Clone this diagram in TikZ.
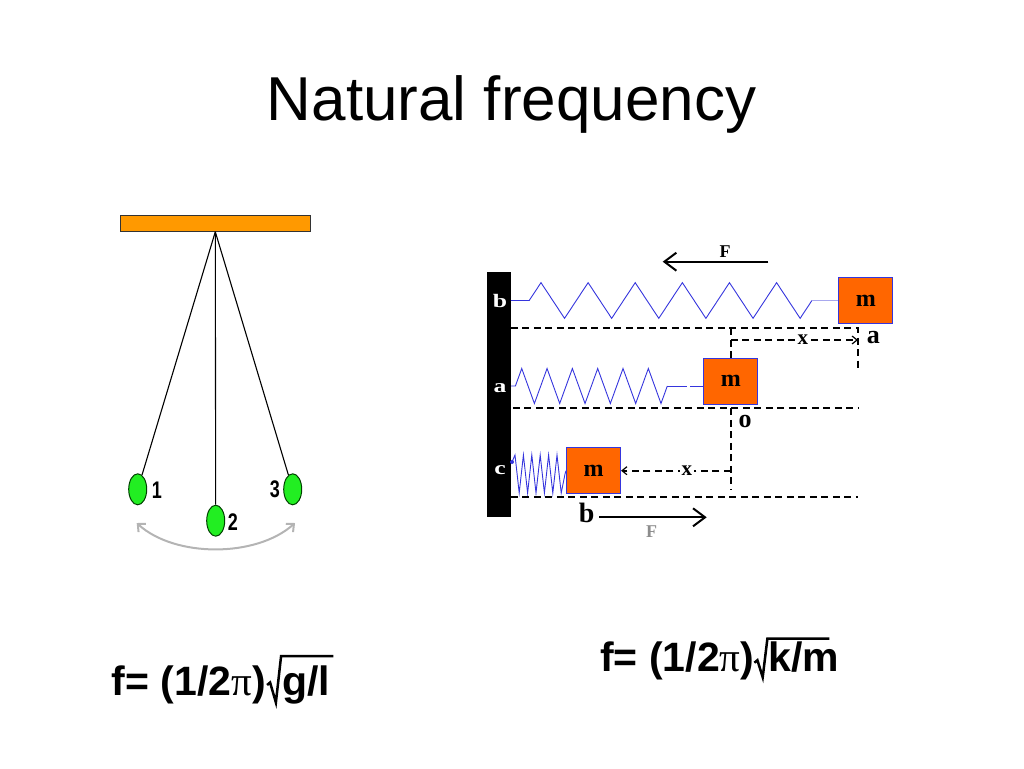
\documentclass[tikz,border=0pt]{standalone}
\usepackage{fontspec}
\setmainfont{Liberation Serif}
\newfontfamily\sans{Liberation Sans}
\usetikzlibrary{arrows.meta,shapes.geometric}
\definecolor{barorange}{HTML}{FF9900}
\definecolor{boxorange}{HTML}{FF6600}
\definecolor{springblue}{HTML}{3535DD}
\definecolor{lightblue}{HTML}{A8A8EE}
\definecolor{bobgreen}{HTML}{22EE22}
\definecolor{arcgray}{HTML}{B4B4B4}
\begin{document}
\begin{tikzpicture}[x=1pt,y=-1pt,
  mass/.style={draw=springblue, line width=1pt, fill=boxorange, minimum width=54pt, minimum height=46pt, inner sep=0pt, font=\bfseries\fontsize{24}{24}\selectfont},
  bob/.style={ellipse, draw=black!75!green, line width=1pt, fill=bobgreen, minimum width=18pt, minimum height=31pt, inner sep=0pt},
  rope/.style={line width=1.1pt},
  spring/.style={springblue, line width=0.9pt, line join=miter},
  guide/.style={line width=2.2pt, dash pattern=on 7pt off 4.5pt},
  guidearrow/.style={guide, -{Straight Barb[length=5pt,width=8pt,line width=1.2pt]}},
  farrow/.style={line width=2pt, -{Straight Barb[length=12pt,width=18pt,line width=2pt]}},
  numlabel/.style={font=\sans\bfseries\fontsize{24}{24}\selectfont, inner sep=0pt},
  walllabel/.style={text=white, font=\bfseries\fontsize{19}{19}\selectfont, inner sep=0pt},
  diaglabel/.style={font=\bfseries\fontsize{26}{26}\selectfont, inner sep=0pt},
  smalllabel/.style={font=\bfseries\fontsize{21}{21}\selectfont, inner sep=0pt},
  formula/.style={font=\sans\bfseries\fontsize{41}{41}\selectfont, inner sep=0pt, anchor=base west},
  radical/.style={line width=2.5pt, line join=miter, line cap=butt}
]
\useasboundingbox (0,0) rectangle (1024,768);

% title
\node[font=\sans\fontsize{62}{62}\selectfont, anchor=base, inner sep=0pt] (title) at (511.5,120) {Natural frequency};

% ---------- pendulum ----------
\node[fill=barorange, draw=black!80, line width=1pt, minimum width=190pt, minimum height=16pt, inner sep=0pt] (bar) at (215.3,223.3) {};
\node[bob] (b1) at (137.7,489.3) {};
\node[bob] (b2) at (215.7,520.7) {};
\node[bob] (b3) at (292.7,489.3) {};
\draw[rope] (bar.south) -- (b1);
\draw[rope] (bar.south) -- (b2);
\draw[rope] (bar.south) -- (b3);
\node[numlabel] (n1) at (157,490) {\scalebox{0.75}[1]{1}};
\node[numlabel] (n2) at (233,522) {\scalebox{0.75}[1]{2}};
\node[numlabel] (n3) at (275,489) {\scalebox{0.75}[1]{3}};
\coordinate (arcL) at (136.7,523);
\coordinate (arcR) at (295,523);
\draw[arcgray, line width=2pt, {Straight Barb[length=6pt,width=11pt,line width=2pt]}-{Straight Barb[length=6pt,width=11pt,line width=2pt]}]
  (arcL) .. controls (175,557.7) and (256,557.7) .. (arcR);

% ---------- spring-mass ----------
\node[fill=black, minimum width=23.4pt, minimum height=244.4pt, inner sep=0pt] (wall) at (499,394.5) {};
\node[walllabel] (wb) at (500,300.8) {\scalebox{1.35}[1]{b}};
\node[walllabel] (wa) at (500,388.3) {\scalebox{1.35}[1]{a}};
\node[walllabel] (wc) at (500,470) {\scalebox{1.35}[1]{c}};

\node[mass] (m1) at (865.8,300.5) {m};
\node[mass] (m2) at (730.8,381.2) {m};
\node[mass] (m3) at (593.5,470.7) {m};

% top spring
\draw[spring] (wall.east |- m1.west) -- ++(18.3,0)
  foreach \k in {1,...,6} { -- ++(11.78,-17.85) -- ++(11.78,17.85) -- ++(11.78,17.85) -- ++(11.78,-17.85) }
  coordinate (s1e);
\draw[lightblue, line width=0.9pt] (s1e) -- (m1.west);

% middle spring
\coordinate (s2a) at (511,386);
\draw[spring] (s2a) -- ++(4.4,0)
  foreach \k in {1,...,6} { -- ++(6.33,-17.5) -- ++(6.33,17.5) -- ++(6.33,17.5) -- ++(6.33,-17.5) }
  coordinate (s2e);
\draw[spring, dash pattern=on 20pt off 3pt] (s2e) -- (m2.west |- s2e);

% bottom spring
\coordinate (s3a) at (512,462);
\fill[springblue] (s3a) circle (2pt);
\draw[spring] (s3a) -- (515,455)
  foreach \k in {1,...,5} { -- ++(4.2,38) -- ++(4.2,-38) }
  -- ++(4.2,38) -- ++(3.8,-19) -- (m3.west);

% guide lines
\coordinate (L1e) at (858,328.3);
\coordinate (L2e) at (858,408.3);
\coordinate (L3e) at (858,497.3);
\draw[guide] (wall.east |- L1e) -- (L1e) -- ++(0,40);
\draw[guide] (m2.north |- L1e) -- (m2.north);
\coordinate (x1) at (731.7,340);
\draw[guidearrow] (m2.north |- x1) -- (L1e |- x1) node[smalllabel, fill=white, inner sep=1.5pt, pos=0.567] (xt) {x};
\node[diaglabel] (la) at (873.3,337.7) {a};

\draw[guide] ([xshift=2pt]wall.east |- L2e) -- (L2e);
\node[diaglabel] (lo) at (745,421.7) {o};
\draw[guide] (m2.south |- L2e) -- ++(0,82);
\draw[guidearrow] (m2.south |- m3.east) -- (m3.east) node[smalllabel, fill=white, inner sep=1.5pt, pos=0.4] (xb) {x};

\draw[guide] (wall.east |- L3e) -- (L3e);

% forces
\coordinate (ft1) at (768.3,261.7);
\coordinate (ft2) at (662.7,261.7);
\draw[farrow] (ft1) -- (ft2);
\node[font=\bfseries\fontsize{18}{18}\selectfont, inner sep=0pt] (Ft) at (725,251.7) {F};

\node[font=\bfseries\fontsize{28}{28}\selectfont, inner sep=0pt] (lb) at (586.7,513) {b};
\coordinate (fb2) at (706.7,517.3);
\draw[farrow] (599.3,517.3) -- (fb2);
\node[font=\bfseries\fontsize{18}{18}\selectfont, text=black!45, inner sep=0pt] (Fb) at (651.7,531.7) {F};

% ---------- formulas ----------
\node[formula] (f1a) at (111.7,695) {f= (1/2{\rmfamily\mdseries π})};
\coordinate (r1) at (f1a.base east);
\node[formula] (f1b) at ([xshift=16pt]r1) {g/l};
\coordinate (t1) at ([shift={(15,-39)}]r1);
\draw[radical] ([shift={(1,-10)}]r1) -- ++(3,-2.5) -- ++(5.8,20) -- (t1) -- ([xshift=3pt]f1b.east |- t1);

\node[formula] (f2a) at (600,671.7) {f= (1/2{\rmfamily\mdseries π})};
\coordinate (r2) at (f2a.base east);
\node[formula] (f2b) at ([xshift=14pt]r2) {k/m};
\coordinate (t2) at ([shift={(13,-33)}]r2);
\draw[radical] ([shift={(0,-9)}]r2) -- ++(3,-2.5) -- ++(5.3,17) -- (t2) -- ([xshift=-10pt]f2b.east |- t2);
\end{tikzpicture}
\end{document}
